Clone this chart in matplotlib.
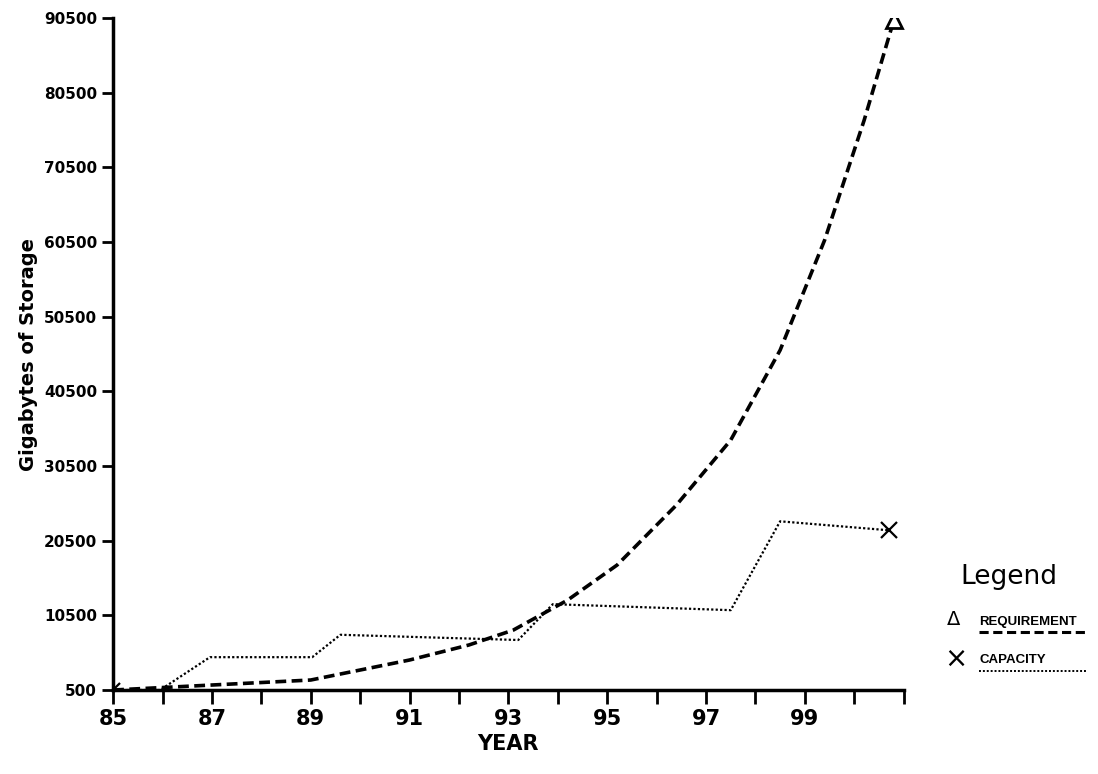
import numpy as np
import matplotlib.pyplot as plt
from matplotlib.ticker import MultipleLocator

# datos (anio, gigabytes)
req_year = [85.0, 87.0, 89.0, 91.0, 92.2, 93.1, 94.2, 95.2, 96.4, 97.5, 98.5, 99.4, 100.2, 100.8]
req_gb = [500, 1170, 1840, 4520, 6530, 8530, 12550, 17240, 25270, 33980, 46030, 60760, 76820, 90210]
cap_year = [85.0, 85.95, 86.96, 89.03, 89.6, 93.2, 93.9, 97.5, 98.5, 100.7]
cap_gb = [500, 500, 4900, 4900, 7900, 7200, 12000, 11200, 23100, 21900]
y_ticks = np.arange(500, 90501, 10000)
x_labels = [85, 87, 89, 91, 93, 95, 97, 99]

fig = plt.figure(figsize=(10.98, 7.74), dpi=100)
ax = fig.add_axes([0.103, 0.1085, 0.72, 0.868])

ax.plot(req_year, req_gb, color='black', lw=2.6, ls=(0, (3, 1.5)))
ax.plot(req_year[-1], req_gb[-1], marker='^', ms=11, mfc='white', mec='black', mew=2)
ax.plot(cap_year, cap_gb, color='black', lw=1.6, ls=(0, (1, 1)))
ax.plot(cap_year[-1], cap_gb[-1], marker='x', ms=12, color='black', mew=1.6)
ax.plot(cap_year[0], cap_gb[0], marker='x', ms=10, color='black', mew=1.6)

ax.set_xlim(85, 101)
ax.set_ylim(500, 90500)
ax.set_xticks(x_labels)
ax.xaxis.set_minor_locator(MultipleLocator(1))
ax.set_yticks(y_ticks)
ax.set_yticklabels([str(v) for v in y_ticks], fontsize=11, fontweight='bold')
ax.set_xticklabels([str(v) for v in x_labels], fontsize=15, fontweight='bold')
ax.tick_params(axis='both', which='both', direction='out', width=2)
ax.tick_params(axis='x', which='major', length=10)
ax.tick_params(axis='x', which='minor', length=10)
ax.tick_params(axis='y', length=8)
for s in ['top', 'right']:
    ax.spines[s].set_visible(False)
for s in ['left', 'bottom']:
    ax.spines[s].set_linewidth(2.5)
ax.set_xlabel('YEAR', fontsize=15, fontweight='bold')
ax.set_ylabel('Gigabytes of Storage', fontsize=14, fontweight='bold')

# leyenda a mano
fig.text(0.875, 0.245, 'Legend', fontsize=19)
fig.text(0.862, 0.192, '\u0394', fontsize=14)
fig.text(0.892, 0.192, 'REQUIREMENT', fontsize=9.5, fontweight='bold', family='Liberation Sans')
fig.lines.append(plt.Line2D([0.892, 0.99], [0.183, 0.183], transform=fig.transFigure,
                            color='black', lw=2.2, ls=(0, (3, 1.5))))
fig.text(0.860, 0.138, '\u00d7', fontsize=20)
fig.text(0.892, 0.143, 'CAPACITY', fontsize=9.5, fontweight='bold', family='Liberation Sans')
fig.lines.append(plt.Line2D([0.892, 0.99], [0.133, 0.133], transform=fig.transFigure,
                            color='black', lw=1.4, ls=(0, (1, 1))))

plt.savefig('out.png', dpi=100)
